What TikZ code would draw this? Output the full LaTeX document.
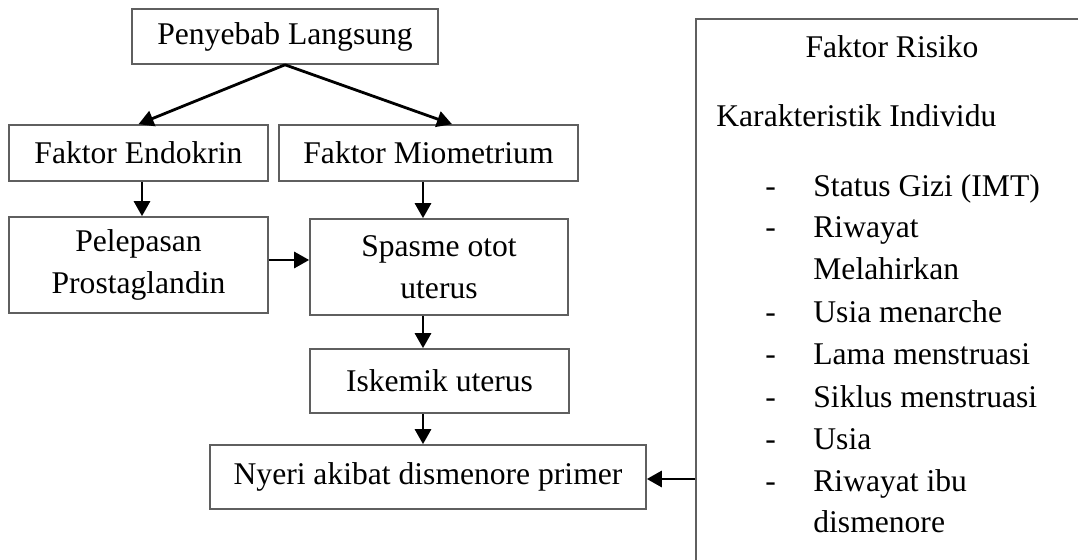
\documentclass[tikz,border=0pt]{standalone}
\usepackage{fontspec}
\setmainfont{Liberation Serif}
\usetikzlibrary{arrows.meta}
\definecolor{boxgray}{RGB}{95,95,95}
\newcommand\myfs{\fontsize{15.8pt}{20.9pt}\selectfont}
\begin{document}
\begin{tikzpicture}[x=0.5pt,y=-0.5pt,
  box/.style={draw=boxgray, line width=0.8pt, rectangle, inner sep=0pt, align=center, font=\myfs},
  txt/.style={inner sep=0pt, font=\myfs},
  arr/.style={-{Triangle[length=7.5pt,width=8pt]}, line width=1.4pt}]
\useasboundingbox (0,0) rectangle (1078,560);
\clip (0,0) rectangle (1078,560);
% main chain
\node[box, minimum width=153pt, minimum height=27.5pt] (pen) at (285,36.5) {Penyebab Langsung};
\node[box, minimum width=129.5pt, minimum height=28pt] (endo) at (138.5,153) {Faktor Endokrin};
\node[box, minimum width=149.5pt, minimum height=28pt] (mio) at (428.5,153) {Faktor Miometrium};
\node[box, minimum width=129.5pt, minimum height=48pt] (pel) at (138.5,265) {Pelepasan\\Prostaglandin};
\node[box, minimum width=129pt, minimum height=48pt] (spa) at (439,267) {Spasme otot\\uterus};
\node[box, minimum width=129.5pt, minimum height=32pt] (isk) at (439.5,381) {Iskemik uterus};
\node[box, minimum width=218pt, minimum height=32pt] (nye) at (428,477) {Nyeri akibat dismenore primer};
% risk factor box (extends past the page)
\node[box, minimum width=202pt, minimum height=290.5pt] (risk) at (898,309.5) {};
\node[txt, anchor=base] (fr) at (892,58) {Faktor Risiko};
\node[txt, anchor=base west] (ki) at (716,127) {Karakteristik Individu};
\foreach \n/\yy/\t/\d in {a/197/{Status Gizi (IMT)}/1, b/238/{Riwayat}/1, c/280/{Melahirkan}/0,
    d/323/{Usia menarche}/1, e/365/{Lama menstruasi}/1, f/408/{Siklus menstruasi}/1,
    g/450/{Usia}/1, h/492/{Riwayat ibu}/1, i/533/{dismenore}/0}{
  \node[txt, anchor=base west] (it\n) at (813,\yy) {\t};
  \ifnum\d=1 \node[txt, anchor=base west] (da\n) at (765,\yy) {-};\fi
}
% helper coordinates
\coordinate (col) at (423,0);
\coordinate (row) at (0,260);
\coordinate (arow) at (0,479);
% connectors
\draw[arr] (pen.south) -- (endo.north);
\draw[arr] (pen.south) -- ([xshift=11.75pt]mio.north);
\draw[arr] ([xshift=1.75pt]endo.south) -- ([xshift=1.75pt]pel.north);
\draw[arr] (mio.south -| col) -- (spa.north -| col);
\draw[arr] (pel.east |- row) -- (spa.west |- row);
\draw[arr] (spa.south -| col) -- (isk.north -| col);
\draw[arr] (isk.south -| col) -- (nye.north -| col);
\draw[arr] (risk.west |- arow) -- (nye.east |- arow);
\end{tikzpicture}
\end{document}
